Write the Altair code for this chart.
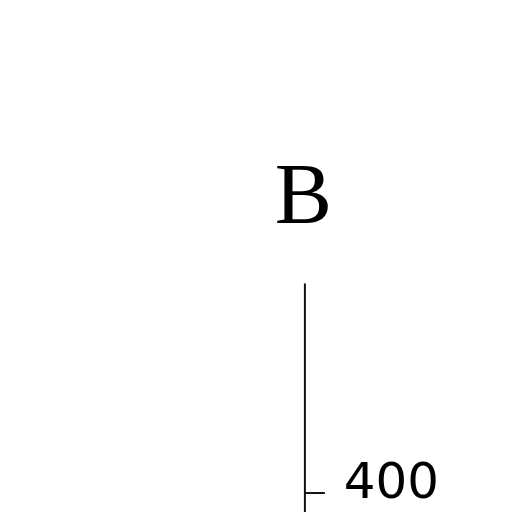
import altair as alt
import pandas as pd

panel_labels = ["B"]
tick_values = [400]
y_domain = [385, 566]

df = pd.DataFrame({"panel": panel_labels, "value": tick_values})

base = alt.Chart(df)

axis_layer = base.mark_point(opacity=0).encode(
    y=alt.Y(
        "value:Q",
        scale=alt.Scale(domain=y_domain, nice=False, zero=False),
        axis=alt.Axis(
            orient="right",
            values=tick_values,
            title=None,
            grid=False,
            domainColor="#111111",
            domainWidth=2,
            tickColor="#111111",
            tickWidth=2,
            tickSize=20,
            labelFont="DejaVu Sans",
            labelFontSize=50,
            labelColor="#000000",
            labelPadding=19,
            labelBaseline="alphabetic",
            labelOffset=5,
        ),
    )
)

label_layer = base.mark_text(
    font="Liberation Serif",
    fontSize=86,
    color="#000000",
    baseline="alphabetic",
    align="center",
).encode(
    text="panel:N",
    x=alt.value(296),
    y=alt.value(-60),
)

chart = alt.layer(axis_layer, label_layer).properties(
    width=297,
    height=229,
    padding={"left": 0, "top": 275, "right": 200, "bottom": 0},
    autosize=alt.AutoSizeParams(type="none"),
    background="white",
).configure_view(strokeWidth=0, stroke="transparent")

chart.save("out.html", embed_options={"renderer": "svg", "actions": False})
